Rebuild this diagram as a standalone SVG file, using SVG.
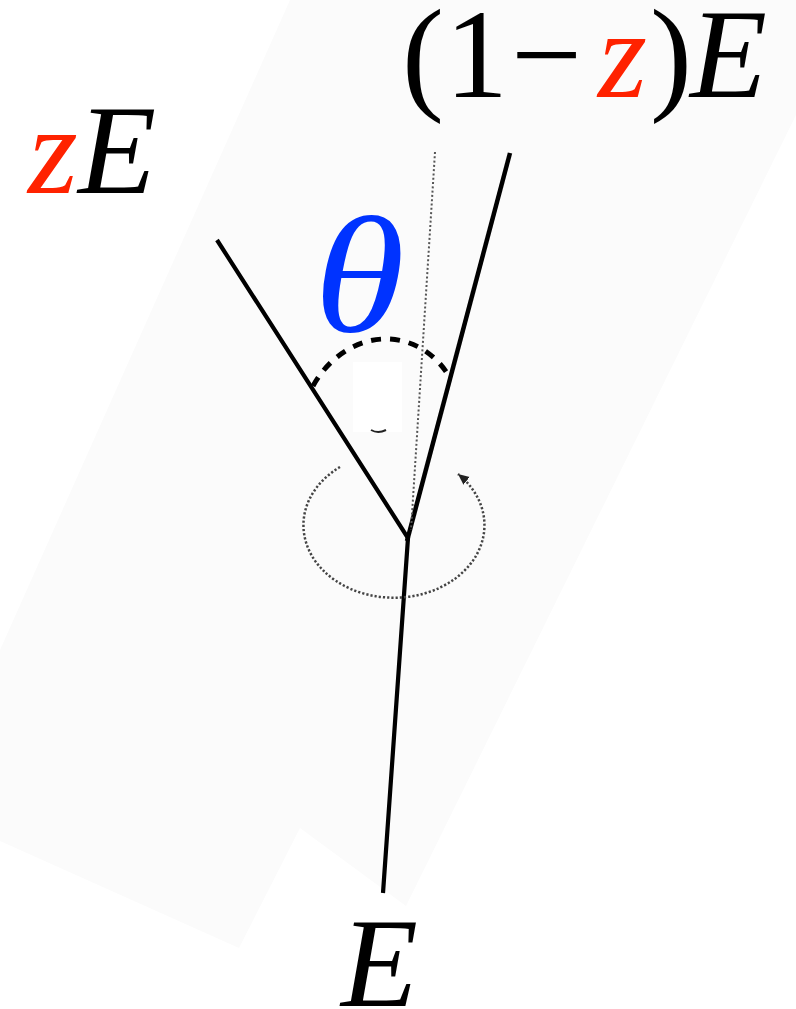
<svg xmlns="http://www.w3.org/2000/svg" width="796" height="1009" viewBox="0 0 796 1009">
<style>
text{font-family:'Liberation Serif','Times New Roman',Times,serif;fill:#000}
.it{font-style:italic}
.red{fill:#ff2200}
.blue{fill:#0033ff}
.solid{fill:none;stroke:#000;stroke-linecap:butt;stroke-linejoin:miter}
.dotted{fill:none;stroke:#555;stroke-width:2;stroke-dasharray:2 2.3}
</style>
<defs>
<marker id="arr" markerUnits="userSpaceOnUse" markerWidth="14" markerHeight="12" refX="11" refY="5" orient="auto">
<path d="M0,0 L11,5 L0,10 Z" fill="#222"/>
</marker>
</defs>
<rect width="796" height="1009" fill="#fff"/>
<g id="background">
<polygon points="290,0 796,0 796,115 406,906 300,828 239,948 0,841 0,650" fill="#fbfbfb"/>
<rect x="353" y="362" width="49" height="70" fill="#fff"/>
<path d="M371,430 Q378,434 386,430" fill="none" stroke="#222" stroke-width="2"/>
</g>
<g id="connectors">
<polyline class="solid" points="217,240 408,538 383,893" stroke-width="4.2"/>
<line class="solid" x1="510" y1="153" x2="407" y2="541" stroke-width="4.5"/>
<line class="dotted" x1="435" y1="152" x2="411" y2="530"/>
<path d="M313,386 C330,355 360,338 388,339 C415,340 435,355 447,373" fill="none" stroke="#000" stroke-width="5" stroke-dasharray="10 9"/>
<path d="M340,467 A90.5,72.5 0 1 0 458,474" fill="none" stroke="#444" stroke-width="2.5" stroke-dasharray="2.2 2" marker-end="url(#arr)"/>
</g>
<g id="label-top-right">
<text font-family="Liberation Serif, serif" font-size="126" y="97"><tspan x="402">(</tspan><tspan x="445">1</tspan><tspan x="511">−</tspan><tspan x="598" class="it red">z</tspan><tspan x="650">)</tspan><tspan x="690" class="it">E</tspan></text>
</g>
<g id="label-top-left">
<text font-family="Liberation Serif, serif" font-size="128" y="193"><tspan x="28" class="it red">z</tspan><tspan x="78" class="it">E</tspan></text>
</g>
<g id="label-theta">
<text class="it blue" font-family="Liberation Serif, serif" font-size="165" transform="translate(314,331) scale(1.12,1)" x="0" y="0">θ</text>
</g>
<g id="label-bottom">
<text class="it" font-family="Liberation Serif, serif" font-size="126" x="341" y="1006">E</text>
</g>
</svg>
